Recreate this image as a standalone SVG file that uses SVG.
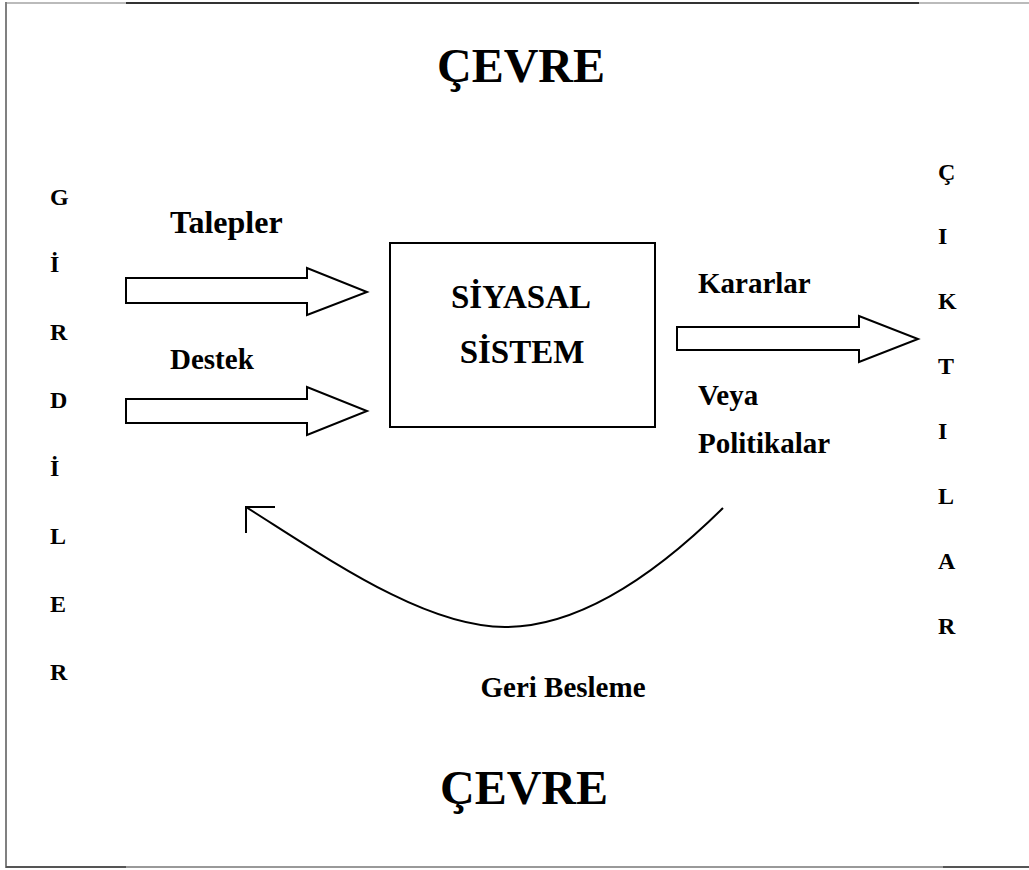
<svg xmlns="http://www.w3.org/2000/svg" width="1029" height="870" viewBox="0 0 1029 870">
<style>
text{font-family:"Liberation Serif","Times New Roman",serif;font-weight:bold;fill:#000}
.big{font-size:48px;text-anchor:middle}
.lbl{font-size:29px}
.col{font-size:24px}
.sys{font-size:33px;text-anchor:middle}
.arrow{fill:#fff;stroke:#000;stroke-width:2;stroke-linejoin:miter}
.line{fill:none;stroke:#000;stroke-width:2}
</style>
<rect width="1029" height="870" fill="#fff"/>
<g id="frame">
<line x1="6" y1="3" x2="126" y2="3" stroke="#bbb" stroke-width="2"/>
<line x1="126" y1="3" x2="919" y2="3" stroke="#333" stroke-width="2"/>
<line x1="919" y1="3" x2="1029" y2="3" stroke="#bbb" stroke-width="2"/>
<line x1="6" y1="2" x2="6" y2="868" stroke="#808080" stroke-width="2"/>
<line x1="6" y1="867" x2="126" y2="867" stroke="#555" stroke-width="2"/>
<line x1="126" y1="867" x2="943" y2="867" stroke="#999" stroke-width="2"/>
<line x1="943" y1="867" x2="1029" y2="867" stroke="#555" stroke-width="2"/>
</g>
<g id="cevre-top"><text class="big" x="521" y="82">ÇEVRE</text></g>
<g id="cevre-bottom"><text class="big" x="524" y="804">ÇEVRE</text></g>
<g id="girdiler">
<text class="col" x="50" y="205">G</text>
<text class="col" x="50" y="272">İ</text>
<text class="col" x="50" y="340">R</text>
<text class="col" x="50" y="408">D</text>
<text class="col" x="50" y="476">İ</text>
<text class="col" x="50" y="544">L</text>
<text class="col" x="50" y="612">E</text>
<text class="col" x="50" y="680">R</text>
</g>
<g id="ciktilar">
<text class="col" x="938" y="180">Ç</text>
<text class="col" x="938" y="244">I</text>
<text class="col" x="938" y="309">K</text>
<text class="col" x="938" y="374">T</text>
<text class="col" x="938" y="439">I</text>
<text class="col" x="938" y="504">L</text>
<text class="col" x="938" y="569">A</text>
<text class="col" x="938" y="634">R</text>
</g>
<g id="siyasal-sistem">
<rect x="390" y="243" width="265" height="184" fill="#fff" stroke="#000" stroke-width="2"/>
<text class="sys" x="521" y="308">SİYASAL</text>
<text class="sys" x="522" y="363">SİSTEM</text>
</g>
<g id="labels">
<text class="lbl" x="170" y="233" style="font-size:32px">Talepler</text>
<text class="lbl" x="170" y="369">Destek</text>
<text class="lbl" x="698" y="293">Kararlar</text>
<text class="lbl" x="698" y="405">Veya</text>
<text class="lbl" x="698" y="453">Politikalar</text>
<text class="lbl" x="563" y="697" style="text-anchor:middle">Geri Besleme</text>
</g>
<g id="connectors">
<polygon class="arrow" points="126,278 307,278 307,268 367,292 307,315 307,303 126,303"/>
<polygon class="arrow" points="126,399 307,399 307,387 367,411 307,435 307,423 126,423"/>
<polygon class="arrow" points="677,327 859,327 859,316 918,339 859,362 859,350 677,350"/>
<path class="line" d="M723,508 C650,580 575,627 505,627 C425,627 330,560 246,507"/>
<path class="line" d="M275,507 L246,507 L246,533"/>
</g>
</svg>
